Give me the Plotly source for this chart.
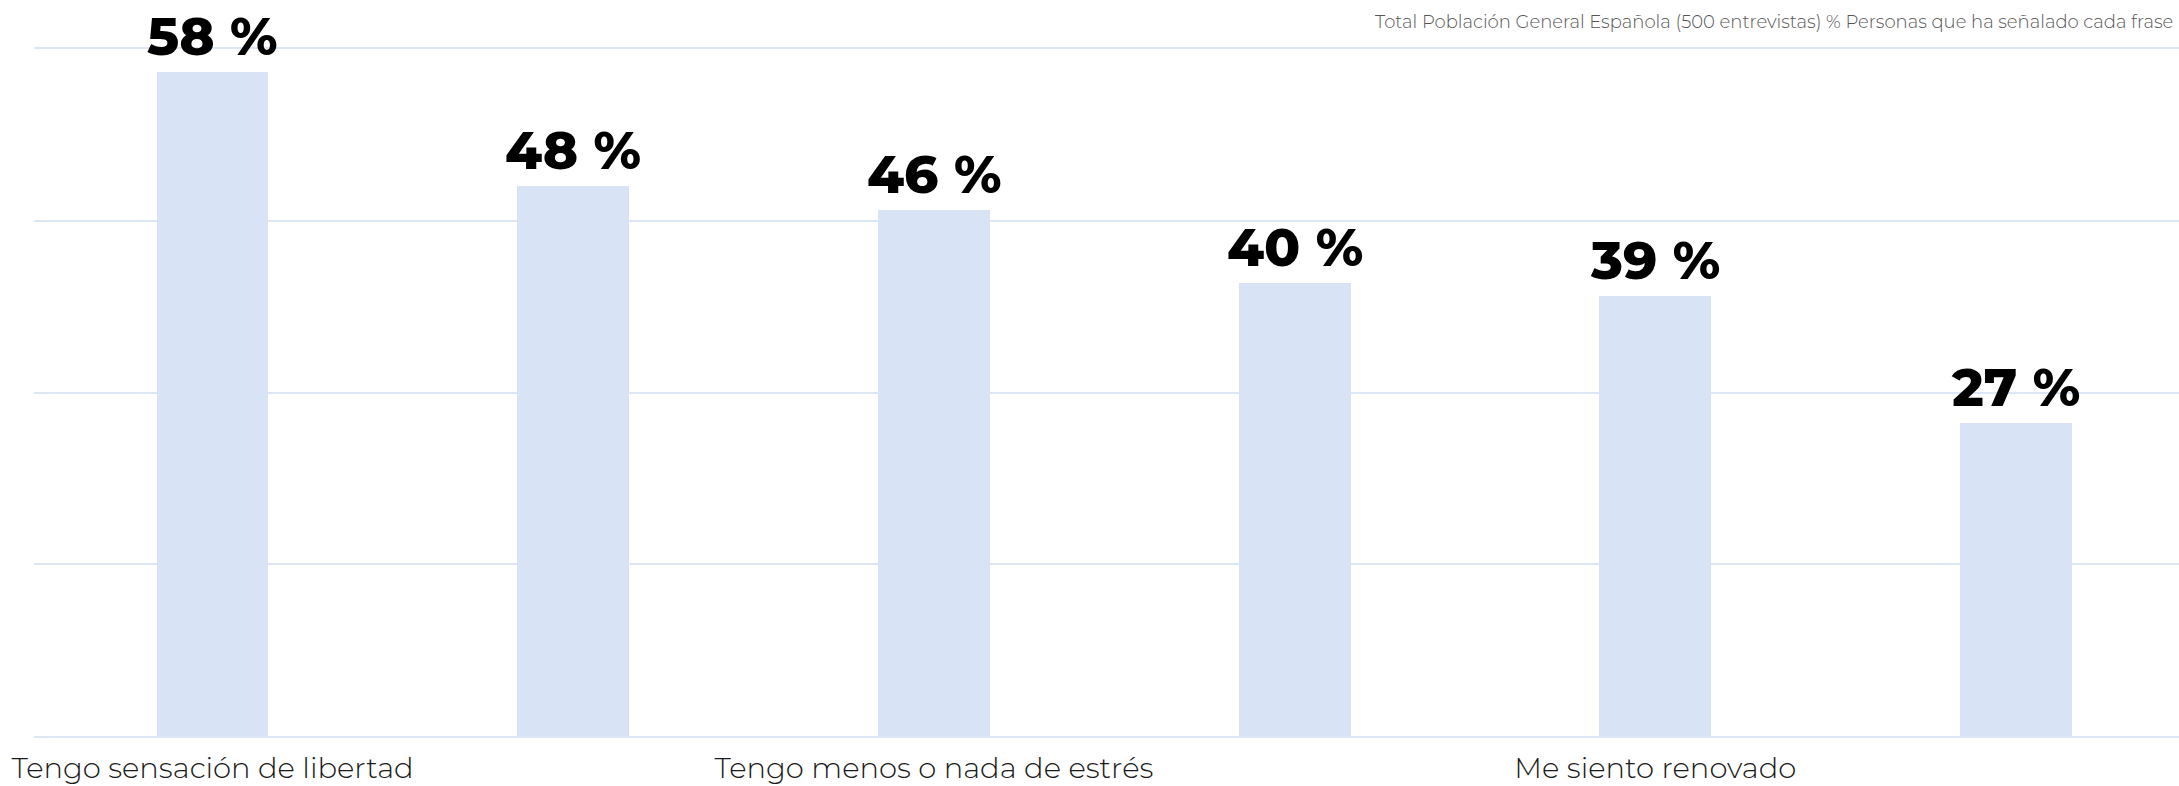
import plotly.graph_objects as go

# Data
categories = ["Tengo sensación de libertad", "", "Tengo menos o nada de estrés", "", "Me siento renovado", ""]
values = [58.0, 48.0, 45.9, 39.6, 38.4, 27.3]          # bar heights as drawn
label_texts = ["58 %", "48 %", "46 %", "40 %", "39 %", "27 %"]  # printed labels
subtitle = "Total Población General Española (500 entrevistas) % Personas que ha señalado cada frase"

x_pos = list(range(len(values)))
shown_ticks = [i for i, c in enumerate(categories) if c]
shown_text = [categories[i] for i in shown_ticks]

BAR = "#d8e4f5"
GRID = "#dce6f5"

fig = go.Figure()
fig.add_trace(go.Bar(
    x=x_pos, y=values, width=0.31,
    marker=dict(color=BAR, line=dict(width=0)),
    hoverinfo="skip",
))

for i, (v, t) in enumerate(zip(values, label_texts)):
    fig.add_annotation(
        x=i, y=v, text=t, showarrow=False, xanchor="center", yanchor="bottom",
        yshift=2,
        font=dict(family="Montserrat, Inter, sans-serif", size=53, color="#000000", weight=800),
    )

fig.add_annotation(
    xref="paper", yref="paper", x=1, y=1, xanchor="right", yanchor="middle",
    xshift=-4, yshift=27,
    text=subtitle, showarrow=False,
    font=dict(family="Montserrat, Lato, sans-serif", size=18, color="#555555", weight=300),
)

fig.update_layout(
    width=2179, height=786,
    margin=dict(l=34, r=0, t=49, b=50),
    paper_bgcolor="white", plot_bgcolor="white",
    showlegend=False,
    bargap=0,
    xaxis=dict(
        range=[-0.495, 5.452], tickmode="array", tickvals=shown_ticks, ticktext=shown_text,
        showgrid=False, zeroline=False, showline=True, mirror=True, linecolor=GRID, linewidth=2,
        ticks="", automargin=False, ticklabelstandoff=5,
        tickfont=dict(family="Montserrat, Lato, sans-serif", size=29, color="#1a1a1a", weight=300),
    ),
    yaxis=dict(
        range=[0, 60], dtick=15, showticklabels=False, showgrid=True, automargin=False,
        gridcolor=GRID, gridwidth=2, zeroline=False, showline=False, ticks="",
    ),
)

fig.write_html(
    "out.html",
    config={"displayModeBar": False},
    post_script="document.body.style.margin='0';document.body.style.overflow='hidden';",
)
